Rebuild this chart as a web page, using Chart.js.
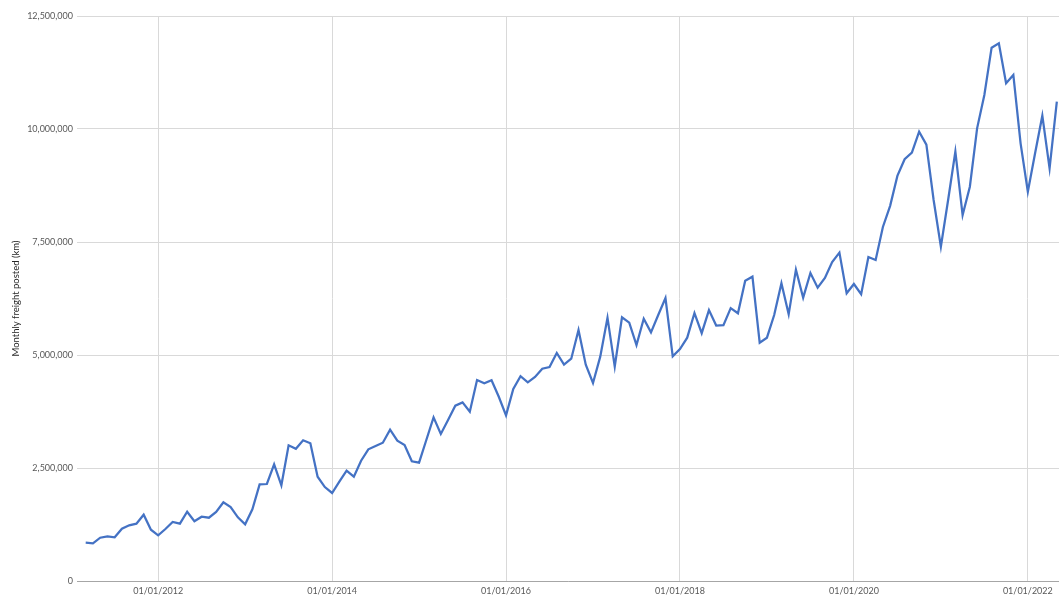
<!DOCTYPE html>
<html>
<head>
<meta charset="utf-8">
<script src="https://cdn.jsdelivr.net/npm/chart.js@4/dist/chart.umd.min.js"></script>
<style>
  body { margin: 0; background: #fff; }
  #wrap { width: 1059px; height: 596px; position: relative; }
</style>
</head>
<body>
<div id="wrap"><canvas id="freightCanvas"></canvas></div>
<script>
// monthly freight posted (km), one array per year; 2011 starts in March
const y2011 = [847000, 834000, 958000, 989000, 967000, 1157000, 1232000, 1268000, 1467000, 1135000];
const y2012 = [1011000, 1150000, 1305000, 1268000, 1533000, 1321000, 1423000, 1400000, 1527000, 1741000, 1637000, 1409000];
const y2013 = [1254000, 1586000, 2139000, 2146000, 2582000, 2117000, 3002000, 2925000, 3113000, 3047000, 2308000, 2078000];
const y2014 = [1947000, 2197000, 2440000, 2308000, 2662000, 2914000, 2987000, 3060000, 3347000, 3104000, 3009000, 2648000];
const y2015 = [2617000, 3120000, 3620000, 3252000, 3560000, 3878000, 3952000, 3745000, 4447000, 4373000, 4440000, 4077000];
const y2016 = [3665000, 4250000, 4530000, 4396000, 4513000, 4697000, 4735000, 5044000, 4786000, 4918000, 5553000, 4786000];
const y2017 = [4381000, 4963000, 5825000, 4742000, 5834000, 5715000, 5221000, 5803000, 5502000, 5885000, 6261000, 4971000];
const y2018 = [5133000, 5383000, 5929000, 5484000, 5993000, 5652000, 5660000, 6036000, 5923000, 6644000, 6733000, 5273000];
const y2019 = [5383000, 5885000, 6586000, 5900000, 6888000, 6268000, 6814000, 6489000, 6704000, 7058000, 7265000, 6365000];
const y2020 = [6571000, 6347000, 7168000, 7102000, 7832000, 8300000, 8963000, 9330000, 9476000, 9940000, 9653000, 8429000];
const y2021 = [7396000, 8430000, 9498000, 8097000, 8724000, 10015000, 10752000, 11799000, 11896000, 11011000, 11195000, 9683000];
const y2022 = [8613000, 9462000, 10294000, 9130000, 10604000];

const years = [2011, 2012, 2013, 2014, 2015, 2016, 2017, 2018, 2019, 2020, 2021, 2022];
const firstMonth = [3, 1, 1, 1, 1, 1, 1, 1, 1, 1, 1, 1];
const yearValues = [y2011, y2012, y2013, y2014, y2015, y2016, y2017, y2018, y2019, y2020, y2021, y2022];

const tickYears = [2012, 2014, 2016, 2018, 2020, 2022];
const tickLabels = ['01/01/2012', '01/01/2014', '01/01/2016', '01/01/2018', '01/01/2020', '01/01/2022'];

// x = months counted from January 2012
const points = [];
years.forEach((yr, i) => {
    yearValues[i].forEach((v, j) => {
        points.push({ x: (yr - 2012) * 12 + (firstMonth[i] - 1) + j, y: v });
    });
});

const font = { family: 'Lato, "Open Sans", sans-serif', size: 9 };
const grey = '#595959';

new Chart(document.getElementById('freightCanvas'), {
    type: 'line',
    data: {
        datasets: [{
            data: points,
            borderColor: '#4472c4',
            borderWidth: 2.25,
            pointRadius: 0,
            tension: 0,
            fill: false
        }]
    },
    options: {
        responsive: true,
        maintainAspectRatio: false,
        animation: false,
        layout: { padding: { top: 16, right: 0, left: 0, bottom: 0 } },
        plugins: { legend: { display: false }, tooltip: { enabled: false } },
        scales: {
            x: {
                type: 'linear',
                min: -11.2,
                max: 124.3,
                afterBuildTicks: axis => {
                    axis.ticks = tickYears.map(yr => ({ value: (yr - 2012) * 12 }));
                },
                afterFit: axis => { axis.height = 15; },
                ticks: {
                    autoSkip: false,
                    maxRotation: 0,
                    padding: 5,
                    color: grey,
                    font: font,
                    callback: (v, i) => tickLabels[i]
                },
                grid: { color: '#d9d9d9', drawTicks: false },
                border: { display: true, color: '#a6a6a6', width: 1 }
            },
            y: {
                min: 0,
                max: 12500000,
                afterFit: axis => { axis.width = 77; },
                ticks: {
                    stepSize: 2500000,
                    padding: 4,
                    color: grey,
                    font: font,
                    callback: v => v.toLocaleString('en-US')
                },
                grid: { color: '#d9d9d9', drawTicks: false },
                border: { display: false },
                title: {
                    display: true,
                    text: 'Monthly freight posted (km)',
                    color: '#262626',
                    font: { family: font.family, size: 9.5 },
                    padding: { top: 10, bottom: 0 }
                }
            }
        }
    }
});
</script>
</body>
</html>
